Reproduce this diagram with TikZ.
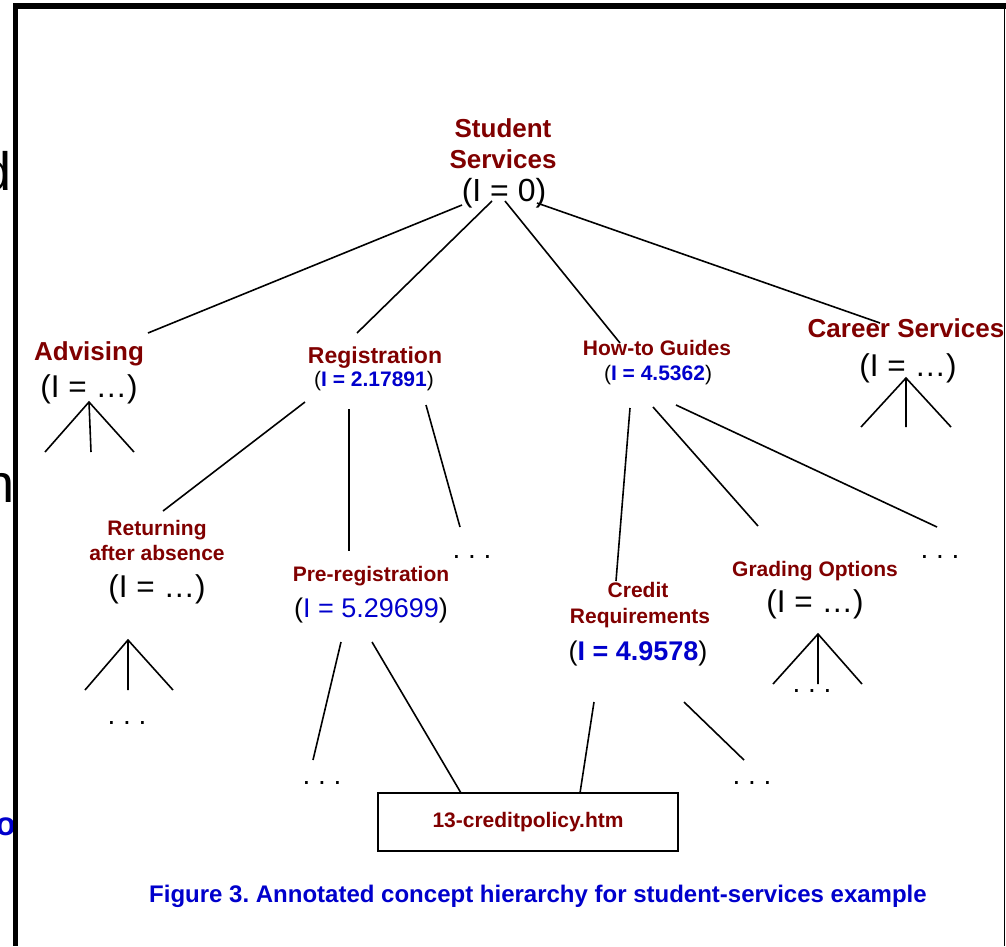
\documentclass[tikz,border=0pt]{standalone}
\usepackage{fontspec}
\setmainfont{Liberation Sans}
\definecolor{conceptred}{RGB}{128,0,0}
\definecolor{infoblue}{RGB}{0,0,204}
\newcommand\fsz[1]{\fontsize{#1}{#1}\selectfont}
\frenchspacing
\begin{document}
\begin{tikzpicture}[x=1pt,y=-1pt,
  every node/.style={inner sep=0pt, anchor=base},
  conceptbig/.style={font=\bfseries\fsz{26}, text=conceptred},
  conceptmid/.style={font=\bfseries\fsz{21}, text=conceptred},
  infoval/.style={font=\fsz{31.5}},
  infosmall/.style={font=\fsz{21}},
  infomed/.style={font=\fsz{27}},
  more/.style={font=\fsz{28}},
  edge/.style={line width=1.6pt},
]
\useasboundingbox (0,0) rectangle (1006,946);
\clip (0,0) rectangle (1006,946);

% text of the page underneath the frame
\node[anchor=base east, font=\fsz{54}] (fragd) at (12,190) {d};
\node[anchor=base east, font=\fsz{54}] (fragn) at (15,502) {n};
\node[anchor=base east, font=\bfseries\fsz{33}, text=infoblue] (frago) at (16,835) {o};

% frame
\fill (13,3) rectangle (1006,9);
\fill (13,3) rectangle (18,946);
\fill (1003.5,9) rectangle (1005,946);

% root
\node[conceptbig] (stud) at (503,137) {Student};
\node[conceptbig] (serv) at (503,168) {Services};
\node[font=\fsz{32}] (rootI) at (504,201) {(I = 0)};

% first level
\node[conceptbig] (adv) at (89,360) {Advising};
\node[infoval] (advI) at (89,397) {(I = …)};

\node[font=\bfseries\fsz{23}, text=conceptred] (reg) at (375,363) {Registration};
\node[infosmall] (regI) at (374,386) {(\textcolor{infoblue}{\bfseries I = 2.17891})};

\node[conceptmid] (how) at (657,355) {How-to Guides};
\node[infosmall] (howI) at (658,380) {(\textcolor{infoblue}{\bfseries I = 4.5362})};

\node[conceptbig] (car) at (906,337) {Career Services};
\node[infoval] (carI) at (908,376) {(I = …)};

% second level
\node[conceptmid] (ret1) at (157,535) {Returning};
\node[conceptmid] (ret2) at (157,560) {after absence};
\node[infoval] (retI) at (157,597) {(I = …)};

\node[conceptmid] (pre) at (371,581) {Pre-registration};
\node[infomed] (preI) at (371,617) {(\textcolor{infoblue}{I = 5.29699})};

\node[conceptmid] (cr1) at (638,597) {Credit};
\node[conceptmid] (cr2) at (640,623) {Requirements};
\node[infomed] (crI) at (638,660) {(\textcolor{infoblue}{\bfseries I = 4.9578})};

\node[conceptmid] (gra) at (815,576) {Grading Options};
\node[infoval] (graI) at (815,612) {(I = …)};

% elided children
\node[more] (regmore) at (472,558) {. . .};
\node[more] (howmore) at (940,558) {. . .};
\node[more] (retmore) at (127,724) {. . .};
\node[more] (premore) at (322,784) {. . .};
\node[more] (crmore) at (752,784) {. . .};
\node[more] (gramore) at (812,692) {. . .};

% document box
\node[draw, line width=1.6pt, anchor=center, minimum width=300pt, minimum height=58pt,
      font=\bfseries\fsz{21}, text=conceptred] (doc) at (528,822) {13-creditpolicy.htm};

% caption
\node[font=\bfseries\fsz{24}, text=infoblue] (cap) at (538,902)
  {Figure 3. Annotated concept hierarchy for student-services example};

% connector end points
\coordinate (rA) at (462,205);
\coordinate (rB) at (492,201);
\coordinate (rC) at (505,201);
\coordinate (rD) at (537,203);
\coordinate (advT) at (148,333);
\coordinate (regT) at (357,333);
\coordinate (howT) at (620,343);
\coordinate (carT) at (880,323);

\coordinate (regA) at (305,402); \coordinate (retT) at (163,511);
\coordinate (regB) at (349,409); \coordinate (preT) at (349,551);
\coordinate (regC) at (426,405); \coordinate (regmT) at (460,527);

\coordinate (howA) at (630,408); \coordinate (crT) at (616,581);
\coordinate (howB) at (653,407); \coordinate (graT) at (758,526);
\coordinate (howC) at (676,405); \coordinate (howmT) at (937,527);

\coordinate (preA) at (341,642); \coordinate (premT) at (313,760);
\coordinate (preB) at (372,642); \coordinate (docL) at (461,793);
\coordinate (crA) at (594,702);  \coordinate (docR) at (580,793);
\coordinate (crB) at (684,702);  \coordinate (crmT) at (744,760);

% root edges
\draw[edge] (rA) -- (advT);
\draw[edge] (rB) -- (regT);
\draw[edge] (rC) -- (howT);
\draw[edge] (rD) -- (carT);

% registration and how-to edges
\draw[edge] (regA) -- (retT);
\draw[edge] (regB) -- (preT);
\draw[edge] (regC) -- (regmT);
\draw[edge] (howA) -- (crT);
\draw[edge] (howB) -- (graT);
\draw[edge] (howC) -- (howmT);

% third level edges
\draw[edge] (preA) -- (premT);
\draw[edge] (preB) -- (docL);
\draw[edge] (crA) -- (docR);
\draw[edge] (crB) -- (crmT);

% collapsed subtrees
\coordinate (advap) at (89,402);
\draw[edge] (45,452) -- (advap) -- (134,452) (advap) -- (91,452);
\coordinate (carap) at (906,378);
\draw[edge] (861,427) -- (carap) -- (951,427) (carap) -- (906,427);
\coordinate (retap) at (128,640);
\draw[edge] (85,690) -- (retap) -- (173,690) (retap) -- (128,690);
\coordinate (graap) at (818,634);
\draw[edge] (773,684) -- (graap) -- (862,684) (graap) -- (818,684);
\end{tikzpicture}
\end{document}
